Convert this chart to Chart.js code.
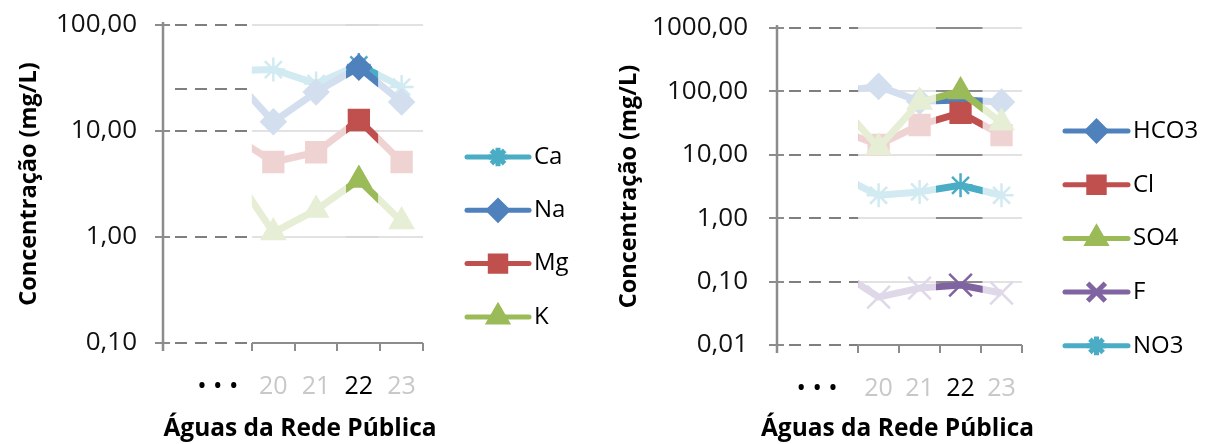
<!DOCTYPE html>
<html>
<head>
<meta charset="utf-8">
<script src="https://cdn.jsdelivr.net/npm/chart.js@4/dist/chart.umd.min.js"></script>
<style>
  html, body { margin: 0; padding: 0; background: #fff; }
  .panel { position: absolute; top: 0; width: 605px; height: 444px; }
</style>
</head>
<body>
<div class="panel" style="left:0"><canvas id="cationsChart"></canvas></div>
<div class="panel" style="left:605px"><canvas id="anionsChart"></canvas></div>
<script>
// Categories (sample numbers); 19 is only there so the lines enter from the left
const categories = [19, 20, 21, 22, 23];
const xTickValues = [20, 21, 22, 23];
const highlightCategory = 22;
const xTitle = 'Águas da Rede Pública';

// Cations (mg/L)
const cationLabels = ['Ca', 'Na', 'Mg', 'K'];
const caValues = [37, 38, 28, 42, 26];
const naValues = [34, 12.2, 23.3, 40, 18.8];
const mgValues = [9.3, 5.1, 6.3, 12.7, 5.1];
const kValues = [4.4, 1.1, 1.8, 3.45, 1.4];
const cationTicks = [0.1, 1, 10, 100];

// Anions (mg/L)
const anionLabels = ['HCO3', 'Cl', 'SO4', 'F', 'NO3'];
const hco3Values = [100, 120, 70, 73, 68];
const clValues = [25, 14.3, 29.5, 46, 20.5];
const so4Values = [70, 13, 68, 100, 32];
const fValues = [0.15, 0.057, 0.079, 0.088, 0.066];
const no3Values = [4.8, 2.3, 2.6, 3.3, 2.3];
const anionTicks = [0.01, 0.1, 1, 10, 100, 1000];

const BLUE = '#4F81BD', RED = '#C0504D', GREEN = '#9BBB59', PURPLE = '#8064A2', AQUA = '#4BACC6';
const FONT = 'Open Sans';

// draws gridlines, fades everything outside the highlighted column and blanks the gap
const excerptPlugin = {
  id: 'excerpt',
  beforeDatasetsDraw(chart, args, o) {
    const { ctx, chartArea: a, scales: { x, y } } = chart;
    const xs = x.getPixelForValue(o.plotStart);
    const h0 = x.getPixelForValue(o.hlFrom), h1 = x.getPixelForValue(o.hlTo);
    ctx.save();
    ctx.lineWidth = 2;
    o.ticks.slice(1).forEach(v => {
      const py = Math.round(y.getPixelForValue(v));
      ctx.strokeStyle = '#8c8c8c';
      ctx.beginPath(); ctx.moveTo(xs, py); ctx.lineTo(h0, py); ctx.moveTo(h1, py); ctx.lineTo(a.right, py); ctx.stroke();
      ctx.strokeStyle = o.hlGrid;
      ctx.beginPath(); ctx.moveTo(h0, py); ctx.lineTo(h1, py); ctx.stroke();
    });
    ctx.restore();
  },
  afterDatasetsDraw(chart, args, o) {
    const { ctx, chartArea: a, scales: { x, y } } = chart;
    const xs = x.getPixelForValue(o.plotStart);
    const h0 = x.getPixelForValue(o.hlFrom), h1 = x.getPixelForValue(o.hlTo);
    ctx.save();
    ctx.fillStyle = 'rgba(255,255,255,0.75)';
    ctx.fillRect(xs, a.top - 4, h0 - xs, a.bottom - a.top + 3);
    ctx.fillRect(h1, a.top - 4, a.right + 10 - h1, a.bottom - a.top + 3);
    ctx.fillStyle = '#fff';
    ctx.fillRect(a.left + 2, 0, xs - a.left - 2, a.bottom + 1);

    // dashed gridlines in the gap
    ctx.strokeStyle = '#7f7f7f';
    ctx.lineWidth = 2;
    ctx.setLineDash([12, 8]);
    o.ticks.concat(o.extraDashes || []).forEach(v => {
      const py = Math.round(y.getPixelForValue(v));
      ctx.beginPath(); ctx.moveTo(a.left + 12, py); ctx.lineTo(xs, py); ctx.stroke();
    });
    ctx.setLineDash([]);

    // y axis with crossing ticks
    ctx.strokeStyle = '#8c8c8c';
    ctx.lineWidth = 2.5;
    ctx.beginPath(); ctx.moveTo(a.left, a.top - 3); ctx.lineTo(a.left, a.bottom + 8); ctx.stroke();
    ctx.lineWidth = 2;
    o.ticks.forEach(v => {
      const py = Math.round(y.getPixelForValue(v));
      ctx.beginPath(); ctx.moveTo(a.left - 8, py); ctx.lineTo(a.left + 7, py); ctx.stroke();
    });

    // x axis only under the plotted samples
    ctx.beginPath(); ctx.moveTo(xs, a.bottom); ctx.lineTo(a.right, a.bottom); ctx.stroke();
    categories.forEach(c => {
      const px = Math.round(x.getPixelForValue(c + 0.5));
      ctx.beginPath(); ctx.moveTo(px, a.bottom); ctx.lineTo(px, a.bottom + 8); ctx.stroke();
    });

    // x title (wider than the axis, so not squeezed into it)
    ctx.fillStyle = '#000';
    ctx.font = 'bold 24.5px "' + FONT + '"';
    ctx.textAlign = 'center';
    ctx.textBaseline = 'middle';
    ctx.fillText(xTitle, (x.left + x.right) / 2 + o.titleShift, o.titleY);
    ctx.restore();
  }
};

// Excel-like legend: thick line with the marker in the middle
const sideLegendPlugin = {
  id: 'sideLegend',
  afterDraw(chart, args, o) {
    const ctx = chart.ctx;
    ctx.save();
    chart.data.datasets.forEach((ds, i) => {
      const yy = o.y0 + i * o.dy;
      ctx.strokeStyle = ds.borderColor;
      ctx.fillStyle = ds.borderColor;
      ctx.lineWidth = 5;
      ctx.lineCap = 'round';
      ctx.beginPath(); ctx.moveTo(o.x0, yy); ctx.lineTo(o.x1, yy); ctx.stroke();
      ctx.lineCap = 'butt';
      Chart.helpers.drawPoint(ctx, {
        pointStyle: ds.pointStyle, radius: ds.pointRadius * 0.78, rotation: 0, borderWidth: 2
      }, (o.x0 + o.x1) / 2, yy);
      ctx.fillStyle = '#000';
      ctx.font = '24px "' + FONT + '"';
      ctx.textBaseline = 'middle';
      ctx.fillText(ds.label, o.x1 + 5, yy);
    });
    ctx.restore();
  }
};

function buildChart(id, p) {
  const yFmt = v => Number(v).toFixed(2).replace('.', ',');
  return new Chart(document.getElementById(id), {
    type: 'line',
    data: {
      datasets: p.labels.map((lab, i) => ({
        label: lab,
        data: categories.map((c, j) => ({ x: c, y: p.values[i][j] })),
        borderColor: p.colors[i],
        backgroundColor: p.colors[i],
        pointBackgroundColor: p.colors[i],
        pointBorderColor: p.colors[i],
        borderWidth: 7,
        borderJoinStyle: 'round',
        pointStyle: p.styles[i],
        pointRadius: p.radii[i],
        pointBorderWidth: 2.5,
        tension: 0,
        order: p.labels.length - i
      }))
    },
    options: {
      responsive: true,
      maintainAspectRatio: false,
      animation: false,
      events: [],
      layout: { padding: { top: p.top, right: p.padRight, left: 0, bottom: 0 } },
      plugins: {
        legend: { display: false },
        tooltip: { enabled: false },
        excerpt: {
          plotStart: 19.5, hlFrom: p.hl[0], hlTo: p.hl[1], ticks: p.ticks, hlGrid: p.hlGrid,
          extraDashes: p.extraDashes, titleShift: p.titleShift, titleY: 429
        },
        sideLegend: p.legend
      },
      scales: {
        x: {
          type: 'linear',
          min: p.xMin,
          max: 23.5,
          grid: { display: false },
          border: { display: false },
          afterBuildTicks: s => { s.ticks = [p.dotsAt].concat(xTickValues).map(v => ({ value: v })); },
          afterFit: s => { s.height = p.xHeight; },
          ticks: {
            autoSkip: false,
            maxRotation: 0,
            padding: 21,
            callback: v => v === p.dotsAt ? '\u2022 \u2022 \u2022' : String(v),
            color: c => (c.tick && (c.tick.value === highlightCategory || c.tick.value === p.dotsAt)) ? '#000' : '#c8c8c8',
            font: { family: FONT, size: 25 }
          },
          title: { display: false }
        },
        y: {
          type: 'logarithmic',
          min: p.ticks[0],
          max: p.ticks[p.ticks.length - 1],
          grid: { display: false },
          border: { display: false },
          afterBuildTicks: s => { s.ticks = p.ticks.map(v => ({ value: v })); },
          afterFit: s => { s.width = p.yWidth; },
          ticks: {
            padding: p.yPad,
            color: '#111',
            font: { family: FONT, size: 26, lineHeight: 0.5 },
            callback: yFmt
          },
          title: {
            display: true,
            text: 'Concentração (mg/L)',
            color: '#000',
            font: { family: FONT, size: 23.5, weight: 'bold' },
            padding: { top: p.titlePad, bottom: 0 }
          }
        }
      }
    },
    plugins: [excerptPlugin, sideLegendPlugin]
  });
}

buildChart('cationsChart', {
  labels: cationLabels,
  values: [caValues, naValues, mgValues, kValues],
  colors: [AQUA, BLUE, RED, GREEN],
  styles: ['star', 'rectRot', 'rect', 'triangle'],
  radii: [12, 12, 14, 13],
  ticks: cationTicks,
  extraDashes: [25],
  xMin: 17.42,
  dotsAt: 18.7,
  hl: [21.7, 22.45],
  hlGrid: '#d9d9d9',
  top: 25,
  padRight: 182,
  yWidth: 163,
  yPad: 18,
  titlePad: 15,
  xHeight: 101,
  titleShift: 7,
  legend: { x0: 467, x1: 529, y0: 157, dy: 53.3 }
});

buildChart('anionsChart', {
  labels: anionLabels,
  values: [hco3Values, clValues, so4Values, fValues, no3Values],
  colors: [BLUE, RED, GREEN, PURPLE, AQUA],
  styles: ['rectRot', 'rect', 'triangle', 'crossRot', 'star'],
  radii: [12, 14, 13, 16, 12],
  ticks: anionTicks,
  xMin: 17.52,
  dotsAt: 18.5,
  hl: [21.4, 22.54],
  hlGrid: '#8c8c8c',
  top: 28,
  padRight: 188,
  yWidth: 172,
  yPad: 21,
  titlePad: 10,
  xHeight: 99,
  titleShift: -2,
  legend: { x0: 460, x1: 523, y0: 131, dy: 53.7 }
});
</script>
</body>
</html>
